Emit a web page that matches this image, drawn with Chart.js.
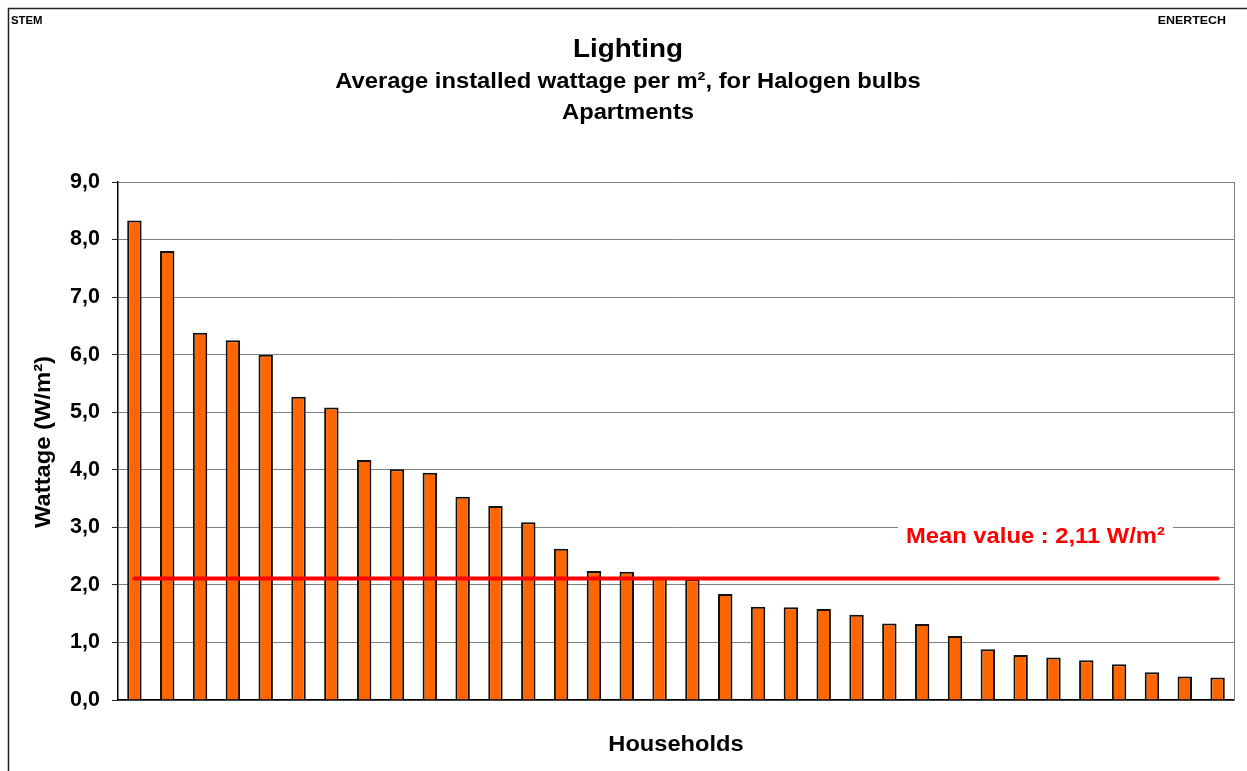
<!DOCTYPE html>
<html>
<head>
<meta charset="utf-8">
<script src="https://cdn.jsdelivr.net/npm/chart.js@4/dist/chart.umd.min.js"></script>
<style>
    body { margin: 0; background: #fff; overflow: hidden; }
    #box { position: relative; width: 1247px; height: 771px; }
</style>
</head>
<body>
<div id="box"><canvas id="grafico"></canvas></div>
<script>
// households sorted by installed wattage
const households = ['1', '2', '3', '4', '5', '6', '7', '8', '9', '10', '11', '12',
    '13', '14', '15', '16', '17', '18', '19', '20', '21', '22', '23', '24',
    '25', '26', '27', '28', '29', '30', '31', '32', '33', '34'];
const wattage = [8.33, 7.80, 6.38, 6.25, 6.00, 5.27, 5.08, 4.17, 4.01, 3.95, 3.53, 3.37,
    3.09, 2.63, 2.24, 2.23, 2.12, 2.10, 1.84, 1.62, 1.61, 1.58, 1.48, 1.33,
    1.32, 1.11, 0.88, 0.78, 0.74, 0.69, 0.62, 0.48, 0.41, 0.39];
const meanValue = 2.11;
const yTicks = [0, 1, 2, 3, 4, 5, 6, 7, 8, 9];

const fonte = "'Liberation Sans', Arial, sans-serif";
const esticar = 1.08; // the original text is a little wider than Arial

function textoLargo(ctx, txt, x, y, size, align, rot) {
    ctx.save();
    ctx.translate(x, y);
    if (rot) ctx.rotate(rot);
    ctx.scale(esticar, 1);
    ctx.font = 'bold ' + size + 'px ' + fonte;
    ctx.textAlign = align || 'center';
    ctx.textBaseline = 'alphabetic';
    ctx.fillText(txt, 0, 0);
    ctx.restore();
}

const moldura = {
    id: 'moldura',
    beforeDraw(chart) {
        const ctx = chart.ctx;
        ctx.save();
        ctx.fillStyle = '#fff';
        ctx.fillRect(0, 0, chart.width, chart.height);
        ctx.strokeStyle = '#222';
        ctx.lineWidth = 1.5;
        ctx.beginPath();
        ctx.moveTo(8.5, chart.height);
        ctx.lineTo(8.5, 8.5);
        ctx.lineTo(chart.width, 8.5);
        ctx.stroke();
        ctx.restore();
    },
    afterDraw(chart) {
        const ctx = chart.ctx;
        const a = chart.chartArea;
        const xs = chart.scales.x, ys = chart.scales.y;
        ctx.save();
        // right border of plot area
        ctx.strokeStyle = '#808080';
        ctx.lineWidth = 1;
        ctx.beginPath();
        ctx.moveTo(Math.round(a.right) + 0.5, a.top);
        ctx.lineTo(Math.round(a.right) + 0.5, a.bottom);
        ctx.stroke();

        ctx.fillStyle = '#000';
        textoLargo(ctx, 'STEM', 11, 24, 10.5, 'left');
        textoLargo(ctx, 'ENERTECH', 1226, 24, 11.5, 'right');
        textoLargo(ctx, 'Lighting', 628, 57, 25.8);
        textoLargo(ctx, 'Average installed wattage per m², for Halogen bulbs', 628, 88, 22);
        textoLargo(ctx, 'Apartments', 628, 119, 22);
        textoLargo(ctx, 'Households', (a.left + a.right) / 2, 751, 21.9);
        textoLargo(ctx, 'Wattage (W/m²)', 50, (a.top + a.bottom) / 2 + 1, 22, 'center', -Math.PI / 2);

        // mean value label
        const lx = xs.getPixelForValue(27.45);
        const ly = ys.getPixelForValue(2.72);
        const txt = 'Mean value : 2,11 W/m²';
        ctx.font = 'bold 22px ' + fonte;
        const w = ctx.measureText(txt).width * esticar;
        ctx.fillStyle = '#fff';
        ctx.fillRect(lx - w / 2 - 8, ly - 24, w + 16, 32);
        ctx.fillStyle = '#ff0000';
        textoLargo(ctx, txt, lx, ly, 22);
        ctx.restore();
    }
};

new Chart(document.getElementById('grafico').getContext('2d'), {
    data: {
        labels: households,
        datasets: [
            {
                type: 'line',
                label: 'Mean value',
                data: [{ x: households[0], y: meanValue }, { x: households[households.length - 1], y: meanValue }],
                borderColor: '#ff0000',
                borderWidth: 4,
                borderCapStyle: 'round',
                pointRadius: 0,
                order: 0
            },
            {
                type: 'bar',
                label: 'Wattage',
                data: wattage,
                backgroundColor: '#ff6600',
                borderColor: '#111',
                borderWidth: 2,
                barPercentage: 0.44,
                categoryPercentage: 1,
                order: 1
            }
        ]
    },
    options: {
        responsive: true,
        maintainAspectRatio: false,
        animation: false,
        layout: { padding: { top: 182, left: 0, right: 13, bottom: 0 } },
        plugins: {
            legend: { display: false },
            tooltip: { enabled: false }
        },
        scales: {
            x: {
                type: 'category',
                offset: true,
                grid: { display: false },
                ticks: { display: false },
                border: { display: true, color: '#000', width: 1.5 },
                afterFit(scale) { scale.height = 71; }
            },
            y: {
                min: 0,
                max: 9,
                afterBuildTicks(scale) { scale.ticks = yTicks.map(v => ({ value: v })); },
                grid: { color: '#808080', lineWidth: 1, tickLength: 6, tickColor: '#222' },
                border: { display: true, color: '#000', width: 1.5 },
                ticks: {
                    color: '#000',
                    padding: 12,
                    font: { family: fonte, size: 21.5, weight: 'bold' },
                    callback: v => v.toFixed(1).replace('.', ',')
                },
                afterFit(scale) { scale.width = 118; }
            }
        }
    },
    plugins: [moldura]
});
</script>
</body>
</html>
